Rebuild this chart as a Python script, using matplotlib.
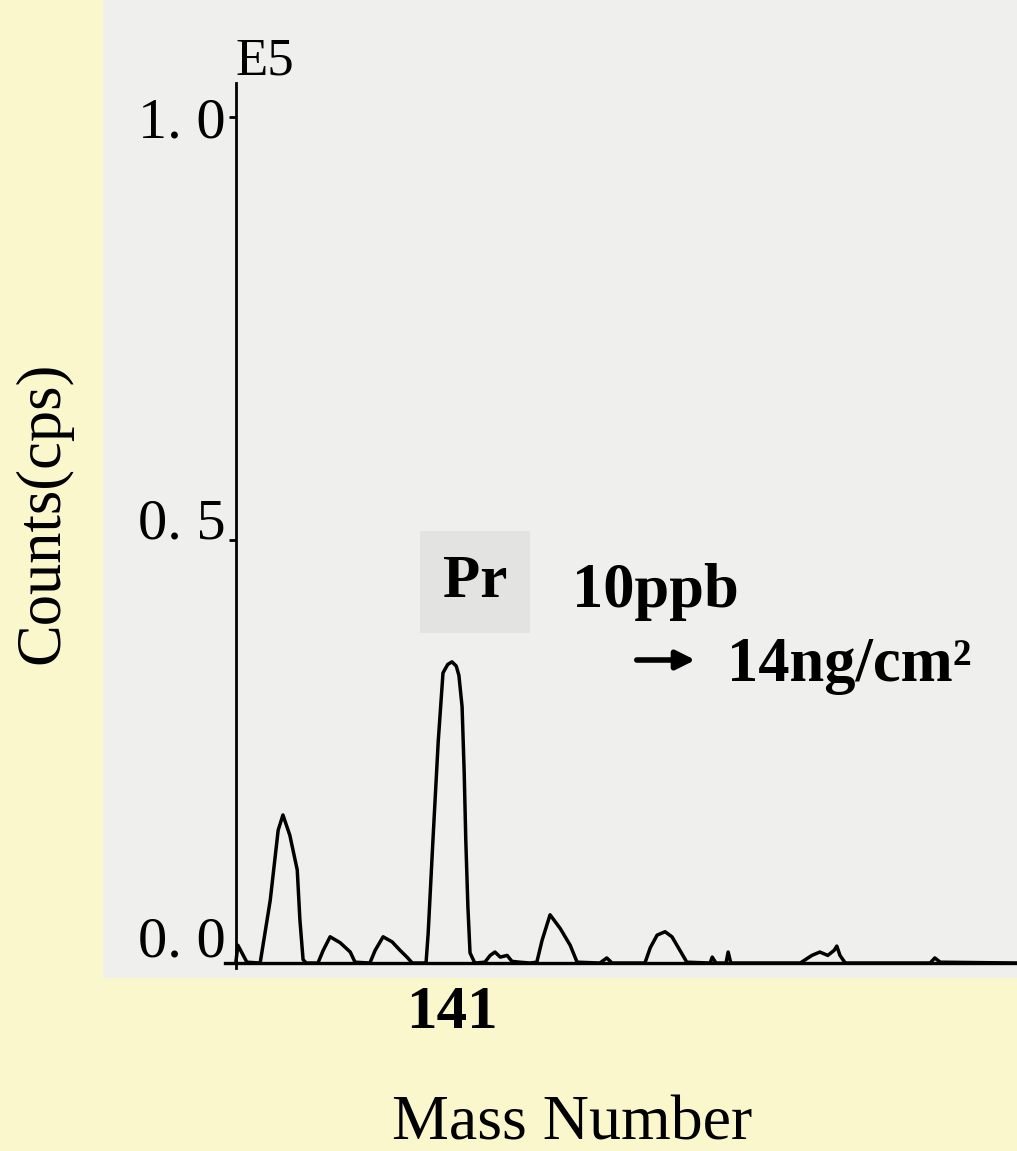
import matplotlib
matplotlib.use("Agg")
import matplotlib.pyplot as plt
from matplotlib.patches import FancyArrowPatch
from matplotlib.transforms import ScaledTranslation

# trace (mass number, counts in E5 cps)
mass = [136.92, 136.96, 137.13, 137.38, 137.57, 137.72, 137.81, 137.94, 138.08, 138.13,
        138.19, 138.25, 138.47, 138.57, 138.70, 138.89, 139.08, 139.17, 139.45, 139.55,
        139.70, 139.87, 140.02, 140.15, 140.25, 140.51, 140.55, 140.64, 140.74, 140.83,
        140.92, 141.00, 141.08, 141.13, 141.19, 141.23, 141.26, 141.30, 141.34, 141.43,
        141.62, 141.72, 141.81, 141.91, 142.04, 142.13, 142.28, 142.47, 142.60, 142.70,
        142.85, 143.04, 143.23, 143.36, 143.79, 143.92, 144.02, 144.64, 144.74, 144.87,
        145.02, 145.15, 145.30, 145.43, 145.87, 145.91, 145.98, 146.17, 146.21, 146.26,
        147.57, 147.79, 147.94, 148.09, 148.21, 148.26, 148.32, 148.42, 150.02, 150.11,
        150.21, 151.66]
counts = [0.0, 0.021, 0.001, 0.0, 0.074, 0.157, 0.175, 0.151, 0.110, 0.051,
          0.004, 0.0, 0.0, 0.015, 0.031, 0.024, 0.013, 0.001, 0.0, 0.015,
          0.031, 0.025, 0.015, 0.007, 0.0, 0.0, 0.035, 0.145, 0.262, 0.343,
          0.353, 0.356, 0.351, 0.340, 0.303, 0.225, 0.145, 0.066, 0.012, 0.0,
          0.001, 0.009, 0.013, 0.007, 0.009, 0.002, 0.001, 0.0, 0.001, 0.027,
          0.057, 0.041, 0.021, 0.001, 0.0, 0.006, 0.0, 0.0, 0.018, 0.033,
          0.037, 0.031, 0.015, 0.001, 0.0, 0.007, 0.0, 0.0, 0.013, 0.0,
          0.0, 0.009, 0.013, 0.009, 0.015, 0.020, 0.009, 0.0, 0.0, 0.006,
          0.001, 0.0]

ytick_vals = [0.0, 0.5, 1.0]
ytick_text = ["0. 0", "0. 5", "1. 0"]
xtick_vals = [141]
xtick_text = ["141"]

serif = "Liberation Serif"
bg = "#FBF7CD"
paper = "#EFEFED"

fig = plt.figure(figsize=(10.17, 11.51), dpi=100, facecolor=bg)
ax = fig.add_axes([103 / 1017, 1 - 978 / 1151, 914 / 1017, 978 / 1151])
ax.set_facecolor(paper)

ax.plot(mass, counts, color="black", lw=2.5, solid_joinstyle="round")

ax.set_xlim(134.415, 151.66)
ax.set_ylim(-0.0177, 1.1383)

for s in ["top", "right"]:
    ax.spines[s].set_visible(False)
ax.spines["left"].set_position(("data", 136.92))
ax.spines["left"].set_bounds(-0.006, 1.04)
ax.spines["bottom"].set_position(("data", 0))
ax.spines["bottom"].set_bounds(136.72, 151.66)
ax.spines["left"].set_linewidth(2.0)
ax.spines["bottom"].set_linewidth(2.4)

ax.set_yticks(ytick_vals)
ax.set_yticklabels(ytick_text, fontsize=42, family=serif)
ax.tick_params(axis="y", length=5, width=2, pad=2)
# the printed labels sit a little above their grid positions on the scan
shifts = [0.27, 0.22, 0.0]
for lab, dy in zip(ax.get_yticklabels(), shifts):
    lab.set_transform(lab.get_transform() + ScaledTranslation(0, dy, fig.dpi_scale_trans))

ax.set_xticks(xtick_vals)
ax.set_xticklabels(xtick_text, fontsize=44, family=serif, fontweight="bold")
ax.tick_params(axis="x", length=0, pad=16)

ax.text(136.92, 1.037, "E5", fontsize=38, family=serif, ha="left", va="bottom")

fig.text(43 / 1017, 1 - 513 / 1151, "Counts(cps)", rotation=90, fontsize=45,
         family=serif, ha="center", va="center")
fig.text(572 / 1017, 1 - 1124 / 1151, "Mass Number", fontsize=46,
         family=serif, ha="center", va="center")

fig.text(475 / 1017, 1 - 582 / 1151, "Pr", fontsize=44, family=serif, fontweight="bold",
         ha="center", va="center",
         bbox=dict(boxstyle="square,pad=0.38", facecolor="#E3E3E1", edgecolor="none"))
fig.text(572 / 1017, 1 - 607 / 1151, "10ppb", fontsize=45, family=serif,
         fontweight="bold", ha="left", va="baseline")
fig.text(727 / 1017, 1 - 681 / 1151, "14ng/cm\u00b2", fontsize=45, family=serif,
         fontweight="bold", ha="left", va="baseline")
fig.patches.append(FancyArrowPatch(
    (634 / 1017, 1 - 660 / 1151), (698 / 1017, 1 - 660 / 1151),
    transform=fig.transFigure, arrowstyle="-|>", mutation_scale=28,
    lw=4, color="black"))

fig.savefig("out.png", dpi=100, facecolor=bg)
